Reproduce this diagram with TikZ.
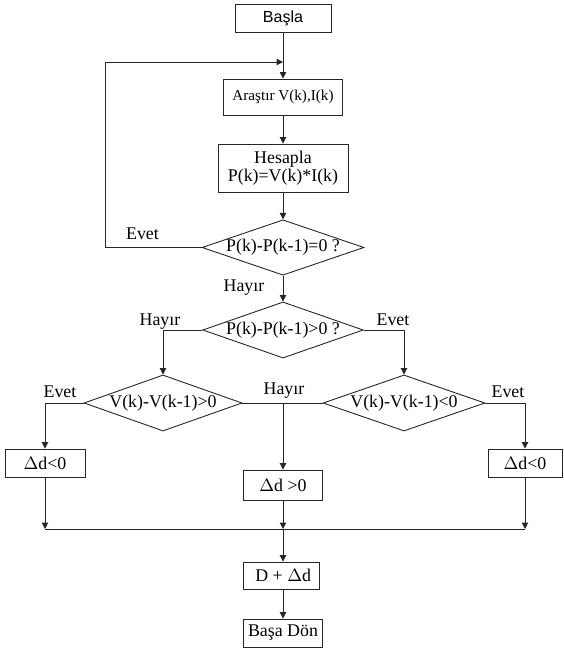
\documentclass[tikz,border=0pt]{standalone}
\usepackage{fontspec}
\setmainfont{Liberation Serif}
\newfontfamily\arialfont{Liberation Sans}
\usetikzlibrary{calc,shapes.geometric,arrows.meta}
\tikzset{
	kutu/.style={draw=black!85,rectangle,line width=0.5pt,inner sep=1pt,align=center},
	karar/.style={draw=black!85,diamond,line width=0.5pt,inner sep=0pt,aspect=2.9},
	ok/.style={draw=black!85,line width=0.5pt,-{Triangle[length=3.6pt,width=3.6pt]}},
	hat/.style={draw=black!85,line width=0.5pt}
}

\begin{document}
\begin{tikzpicture}[x=0.56pt,y=-0.56pt]
		\useasboundingbox (0,0) rectangle (563,653);
		\node[kutu,minimum width=53.8pt,minimum height=15.7pt] (basla) at (283,18) {\arialfont\fontsize{9}{11}\selectfont Başla};
		\node[kutu,minimum width=66.6pt,minimum height=20.2pt] (arastir) at (283,97) {\fontsize{8.5}{10}\selectfont Araştır V(k),I(k)};
		\node[kutu,minimum width=72.8pt,minimum height=26.9pt,inner sep=0pt] (hesapla) at (283,168) {Hesapla\\[-2pt]P(k)=V(k)*I(k)};
		\node[karar,minimum width=90.7pt,minimum height=30.8pt] (d1) at (283,247.5) {P(k)-P(k-1)=0 ?};
		\node[karar,minimum width=89.6pt,minimum height=31.4pt] (d2) at (283,330) {P(k)-P(k-1)>0 ?};
		\node[karar,minimum width=88.5pt,minimum height=31.4pt] (d3) at (163,403) {V(k)-V(k-1)>0};
		\node[karar,minimum width=90.7pt,minimum height=31.4pt] (d4) at (404,403) {V(k)-V(k-1)<0};
		\node[kutu,minimum width=44.8pt,minimum height=15.7pt] (negL) at (45,463) {$\Delta$d<0};
		\node[kutu,minimum width=41.4pt,minimum height=15.7pt] (negR) at (525,463) {$\Delta$d<0};
		\node[kutu,minimum width=44.2pt,minimum height=16.8pt] (pos) at (283,485) {$\Delta$d >0};
		\node[kutu,minimum width=42.6pt,minimum height=15.1pt] (dd) at (281,575.5) {\ D + $\Delta$d};
		\node[kutu,minimum width=44.2pt,minimum height=15.7pt] (bdon) at (283,633) {Başa Dön};

		\node (evet1) at (142.5,234) {Evet};
		\node (hayir1) at (244,288) {Hayır};
		\node (hayir2) at (160,322) {Hayır};
		\node (evet2) at (393,320) {Evet};
		\node (evet3) at (60,392) {Evet};
		\node (hayir3) at (284,391) {Hayır};
		\node (evet4) at (508,392) {Evet};

		\coordinate (j) at (283,62);
		\coordinate (dongu) at (105,62);
		\coordinate (orta) at (283,403);
		\coordinate (mL) at (45,529);
		\coordinate (mC) at (283,529);
		\coordinate (mR) at (525,529);

		\draw[ok] (basla) -- (arastir);
		\draw[ok] (arastir) -- (hesapla);
		\draw[ok] (hesapla) -- (d1);
		\draw[ok] (d1.west) -| (dongu) -- (j);
		\draw[ok] (d1) -- (d2);
		\draw[ok] (d2.west) -| (d3.north);
		\draw[ok] (d2.east) -| (d4.north);
		\draw[ok] (d3.west) -| (negL.north);
		\draw[ok] (d4.east) -| (negR.north);
		\draw[hat] (d3.east) -- (d4.west);
		\draw[ok] (orta) -- (pos);
		\draw[hat] (mL) -- (mR);
		\draw[ok] (negL) -- (mL);
		\draw[ok] (negR) -- (mR);
		\draw[ok] (pos) -- (mC);
		\draw[ok] (mC) -- (mC |- dd.north);
		\draw[ok] (dd.south -| mC) -- (bdon);
	\end{tikzpicture}
\end{document}
